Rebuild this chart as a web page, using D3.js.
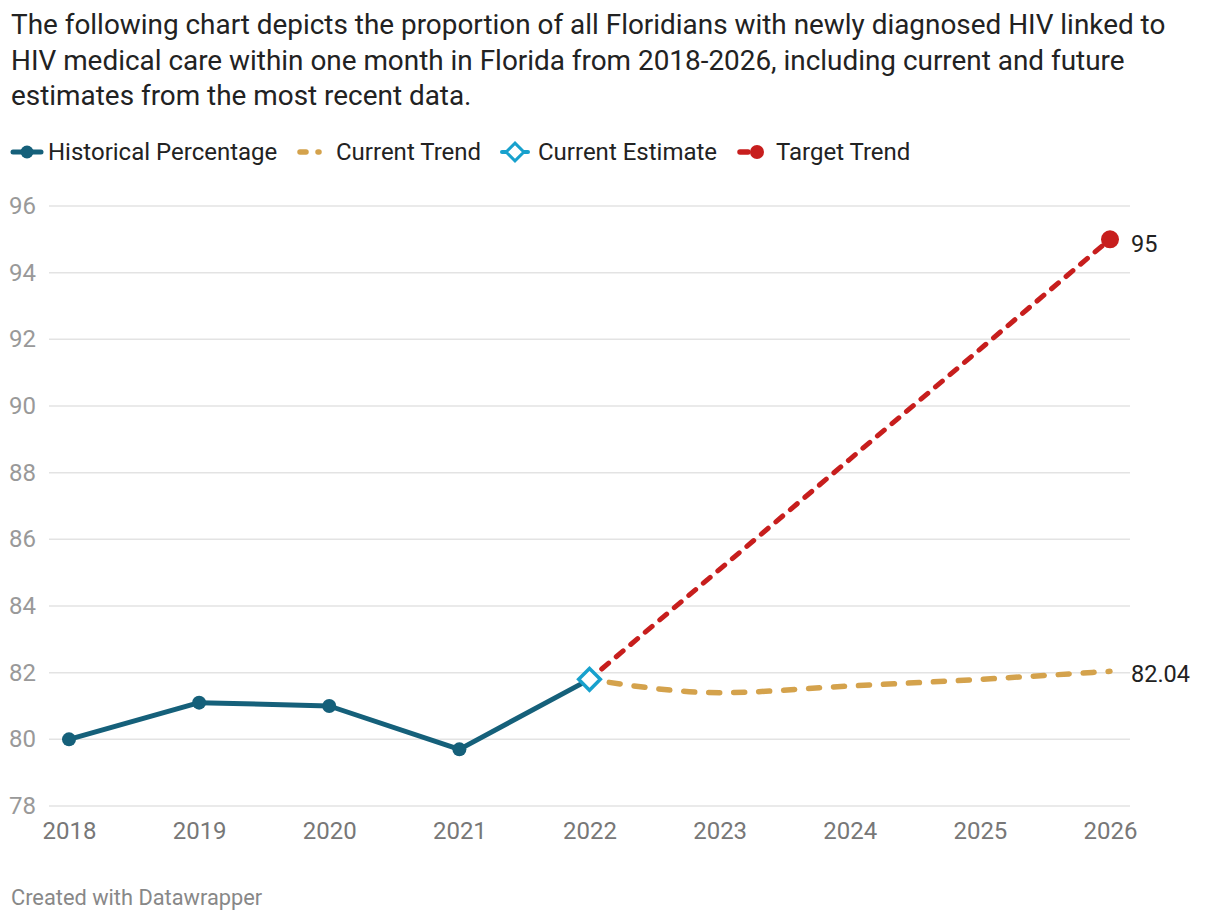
<!DOCTYPE html>
<html>
<head>
<meta charset="utf-8">
<script src="https://cdn.jsdelivr.net/npm/d3@7"></script>
<style>
body { margin: 0; background: #fff; font-family: Roboto, sans-serif; }
.title { position: absolute; left: 11px; top: 7px; width: 1200px; font-size: 27.9px; line-height: 35.5px; color: #222; }
.foot { position: absolute; left: 11px; top: 885px; font-size: 21.8px; color: #888; }
</style>
</head>
<body>
<div class="title">The following chart depicts the proportion of all Floridians with newly diagnosed HIV linked to HIV medical care within one month in Florida from 2018-2026, including current and future estimates from the most recent data.</div>
<svg width="1220" height="922"></svg>
<div class="foot">Created with Datawrapper</div>
<script>
var years = [2018, 2019, 2020, 2021, 2022, 2023, 2024, 2025, 2026];
var historical = [80.0, 81.1, 81.0, 79.7, 81.8];
var trendYears = [2022, 2023, 2024, 2025, 2026];
var currentTrend = [81.8, 81.4, 81.6, 81.8, 82.04];
var targetTrend = [81.8, 85.1, 88.4, 91.7, 95];
var yTicks = [78, 80, 82, 84, 86, 88, 90, 92, 94, 96];

var colHist = "#15607a", colCur = "#d4a24c", colEst = "#18a1cd", colTgt = "#c71e1d";

var svg = d3.select("svg");
var x = d3.scaleLinear().domain([2018, 2026]).range([69, 1110]);
var y = d3.scaleLinear().domain([78, 96]).range([806, 206]);

// grid + y labels
var grid = svg.append("g");
grid.selectAll("line").data(yTicks).enter().append("line")
    .attr("x1", 49).attr("x2", 1130)
    .attr("y1", function(d) { return y(d); })
    .attr("y2", function(d) { return y(d); })
    .attr("stroke", "#e3e3e3").attr("stroke-width", 1.5);
grid.selectAll("text").data(yTicks).enter().append("text")
    .attr("x", 9).attr("y", function(d) { return y(d) + 8; })
    .attr("font-size", 24).attr("fill", "#999")
    .text(function(d) { return d; });

// x axis labels
var xa = svg.append("g").attr("transform", "translate(0,806)")
    .call(d3.axisBottom(x).tickValues(years).tickFormat(d3.format("d")).tickSize(0).tickPadding(16));
xa.select(".domain").remove();
xa.selectAll("text").attr("font-size", 24).attr("font-family", "Roboto, sans-serif").attr("fill", "#777");

// target trend
var line = d3.line().x(function(d) { return x(d[0]); }).y(function(d) { return y(d[1]); });
svg.append("path")
    .datum(d3.zip(trendYears, targetTrend))
    .attr("d", line)
    .attr("fill", "none").attr("stroke", colTgt).attr("stroke-width", 5)
    .attr("stroke-dasharray", "9,10").attr("stroke-dashoffset", -16).attr("stroke-linecap", "round");

// current trend
svg.append("path")
    .datum(d3.zip(trendYears, currentTrend))
    .attr("d", line.curve(d3.curveMonotoneX))
    .attr("fill", "none").attr("stroke", colCur).attr("stroke-width", 5.5)
    .attr("stroke-dasharray", "11,14").attr("stroke-dashoffset", -20).attr("stroke-linecap", "round");
line.curve(d3.curveLinear);

// historical
svg.append("path")
    .datum(d3.zip(years.slice(0, 5), historical))
    .attr("d", line)
    .attr("fill", "none").attr("stroke", colHist).attr("stroke-width", 5).attr("stroke-linejoin", "round");
svg.selectAll(".hdot").data(d3.zip(years.slice(0, 4), historical.slice(0, 4))).enter().append("circle")
    .attr("class", "hdot")
    .attr("cx", function(d) { return x(d[0]); })
    .attr("cy", function(d) { return y(d[1]); })
    .attr("r", 7).attr("fill", colHist);

// current estimate diamond
svg.append("path")
    .attr("d", d3.symbol().type(d3.symbolDiamond2).size(300))
    .attr("transform", "translate(" + x(2022) + "," + y(historical[4]) + ")")
    .attr("fill", "#fff").attr("stroke", colEst).attr("stroke-width", 3.5);

// target end dot
svg.append("circle")
    .attr("cx", x(2026)).attr("cy", y(targetTrend[4])).attr("r", 9).attr("fill", colTgt);

// end labels
svg.append("text").attr("x", 1131).attr("y", y(targetTrend[4]) + 13)
    .attr("font-size", 23.5).attr("fill", "#222").text(targetTrend[4]);
svg.append("text").attr("x", 1131).attr("y", y(currentTrend[4]) + 11)
    .attr("font-size", 23.5).attr("fill", "#222").text(d3.format(".2f")(currentTrend[4]));

// legend
var lg = svg.append("g").attr("font-size", 24).attr("fill", "#222");
lg.append("line").attr("x1", 13).attr("x2", 41).attr("y1", 152).attr("y2", 152)
    .attr("stroke", colHist).attr("stroke-width", 5).attr("stroke-linecap", "round");
lg.append("circle").attr("cx", 27).attr("cy", 152).attr("r", 6.5).attr("fill", colHist);
lg.append("text").attr("x", 48).attr("y", 160).text("Historical Percentage");

lg.append("line").attr("x1", 300).attr("x2", 306).attr("y1", 152).attr("y2", 152)
    .attr("stroke", colCur).attr("stroke-width", 5.5).attr("stroke-linecap", "round");
lg.append("line").attr("x1", 318).attr("x2", 319).attr("y1", 152).attr("y2", 152)
    .attr("stroke", colCur).attr("stroke-width", 5.5).attr("stroke-linecap", "round");
lg.append("text").attr("x", 336).attr("y", 160).text("Current Trend");

lg.append("line").attr("x1", 502).attr("x2", 528).attr("y1", 152).attr("y2", 152)
    .attr("stroke", colEst).attr("stroke-width", 4).attr("stroke-linecap", "round");
lg.append("path").attr("d", d3.symbol().type(d3.symbolDiamond2).size(200))
    .attr("transform", "translate(515,152)")
    .attr("fill", "#fff").attr("stroke", colEst).attr("stroke-width", 3);
lg.append("text").attr("x", 538).attr("y", 160).text("Current Estimate");

lg.append("line").attr("x1", 740).attr("x2", 748).attr("y1", 152).attr("y2", 152)
    .attr("stroke", colTgt).attr("stroke-width", 5.5).attr("stroke-linecap", "round");
lg.append("circle").attr("cx", 757).attr("cy", 152).attr("r", 7).attr("fill", colTgt);
lg.append("text").attr("x", 776).attr("y", 160).text("Target Trend");
</script>
</body>
</html>
